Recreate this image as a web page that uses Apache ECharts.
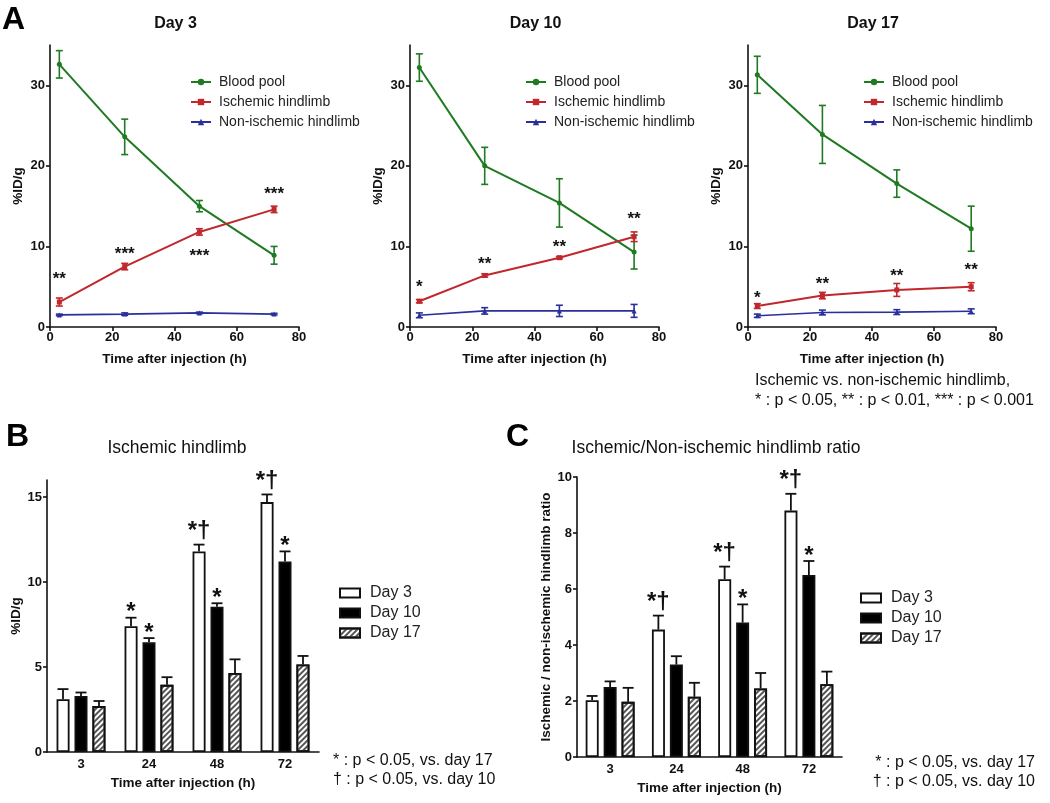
<!DOCTYPE html>
<html>
<head>
<meta charset="utf-8">
<script src="https://cdn.jsdelivr.net/npm/echarts@6/dist/echarts.min.js"></script>
<style>
  html, body { margin: 0; padding: 0; background: #fff; }
  #chart { width: 1050px; height: 803px; }
</style>
</head>
<body>
<div id="chart"></div>
<script>
// ---- panel A : %ID/g vs time, one plot per day ----
const hours = [3, 24, 48, 72]
const namesA = ['Blood pool', 'Ischemic hindlimb', 'Non-ischemic hindlimb']
const daysA = ['Day 3', 'Day 10', 'Day 17']

const bloodD3 = [32.6, 23.6, 15.0, 8.9]
const bloodD3Err = [1.7, 2.2, 0.7, 1.1]
const ischD3 = [3.1, 7.5, 11.8, 14.6]
const ischD3Err = [0.5, 0.4, 0.4, 0.4]
const nonD3 = [1.5, 1.6, 1.75, 1.6]
const nonD3Err = [0.1, 0.15, 0.1, 0.1]
const starsD3 = ['**', '***', '***', '***']
const starsD3Y = [6.4, 9.5, 9.3, 17.0]

const bloodD10 = [32.2, 20.0, 15.4, 9.3]
const bloodD10Err = [1.7, 2.3, 3.0, 2.1]
const ischD10 = [3.2, 6.4, 8.6, 11.2]
const ischD10Err = [0.2, 0.2, 0.15, 0.6]
const nonD10 = [1.45, 2.0, 2.0, 2.0]
const nonD10Err = [0.3, 0.4, 0.7, 0.8]
const starsD10 = ['*', '**', '**', '**']
const starsD10Y = [5.4, 8.3, 10.4, 13.9]

const bloodD17 = [31.3, 23.9, 17.8, 12.2]
const bloodD17Err = [2.3, 3.6, 1.7, 2.8]
const ischD17 = [2.6, 3.9, 4.6, 5.0]
const ischD17Err = [0.3, 0.4, 0.8, 0.5]
const nonD17 = [1.4, 1.8, 1.85, 1.95]
const nonD17Err = [0.2, 0.3, 0.3, 0.3]
const starsD17 = ['*', '**', '**', '**']
const starsD17Y = [4.1, 5.8, 6.8, 7.5]

const ticksA = [0, 10, 20, 30]

// ---- panels B and C : bars by time point ----
const timeCats = ['3', '24', '48', '72']
const dayNames = ['Day 3', 'Day 10', 'Day 17']

const ischB3 = [3.1, 7.4, 11.8, 14.7]
const ischB3Err = [0.6, 0.5, 0.4, 0.45]
const ischB10 = [3.3, 6.45, 8.55, 11.2]
const ischB10Err = [0.2, 0.25, 0.2, 0.6]
const ischB17 = [2.7, 3.95, 4.65, 5.15]
const ischB17Err = [0.3, 0.45, 0.8, 0.5]
const sigB3 = ['', '*', '*\u2020', '*\u2020']
const sigB10 = ['', '*', '*', '*']
const ticksB = [0, 5, 10, 15]

const ratioC3 = [2.03, 4.55, 6.35, 8.8]
const ratioC3Err = [0.15, 0.5, 0.45, 0.6]
const ratioC10 = [2.5, 3.3, 4.8, 6.5]
const ratioC10Err = [0.2, 0.3, 0.65, 0.5]
const ratioC17 = [1.97, 2.15, 2.45, 2.6]
const ratioC17Err = [0.5, 0.5, 0.55, 0.45]
const sigC3 = ['', '*\u2020', '*\u2020', '*\u2020']
const sigC10 = ['', '', '*', '*']
const ticksC = [0, 2, 4, 6, 8, 10]

const FONT = 'Liberation Sans, Arial, sans-serif'
const INK = '#111'
const GREEN = '#1f7a22'
const RED = '#c1272d'
const BLUE = '#2a2f9c'

const gridsA = [
  { left: 50, top: 45, width: 249, height: 282 },
  { left: 410, top: 45, width: 249, height: 282 },
  { left: 748, top: 45, width: 248, height: 282 }
]
const legendLeftA = [185, 520, 858]

const myChart = echarts.init(document.getElementById('chart'))

const axisLine = { lineStyle: { color: INK, width: 1.6 } }
const axisTick = { length: 4, lineStyle: { color: INK, width: 1.6 } }
const tickLabel = { color: INK, fontWeight: 'bold', fontSize: 13, fontFamily: FONT }
const axisName = { color: INK, fontWeight: 'bold', fontSize: 13.5, fontFamily: FONT }

function errLines(idx, xs, ys, errs, color) {
  return {
    type: 'custom', xAxisIndex: idx, yAxisIndex: idx, silent: true, z: 3,
    data: xs.map((x, i) => [x, ys[i], errs[i]]),
    renderItem: function (params, api) {
      const x = api.value(0), y = api.value(1), e = api.value(2)
      const hi = api.coord([x, y + e]), lo = api.coord([x, y - e])
      const s = { stroke: color, lineWidth: 1.6 }
      return { type: 'group', children: [
        { type: 'line', shape: { x1: hi[0], y1: hi[1], x2: lo[0], y2: lo[1] }, style: s },
        { type: 'line', shape: { x1: hi[0] - 3.5, y1: hi[1], x2: hi[0] + 3.5, y2: hi[1] }, style: s },
        { type: 'line', shape: { x1: lo[0] - 3.5, y1: lo[1], x2: lo[0] + 3.5, y2: lo[1] }, style: s }
      ] }
    }
  }
}

function starText(idx, xs, ys, texts) {
  return {
    type: 'custom', xAxisIndex: idx, yAxisIndex: idx, silent: true, z: 5,
    data: xs.map((x, i) => [x, ys[i], i]),
    renderItem: function (params, api) {
      const p = api.coord([api.value(0), api.value(1)])
      return { type: 'text', x: p[0], y: p[1] + 4, style: {
        text: texts[api.value(2)], fill: INK, font: 'bold 17px ' + FONT, align: 'center', verticalAlign: 'middle'
      } }
    }
  }
}

// one-sided error bars + significance marks on grouped bars
const BAR_W = 13
const BAR_STEP = 18
function barErr(idx, slot, vals, errs, sig) {
  return {
    type: 'custom', xAxisIndex: idx, yAxisIndex: idx, silent: true, z: 1,
    data: vals.map((v, i) => [i, v, errs[i], i]),
    renderItem: function (params, api) {
      const c = api.value(0), v = api.value(1), e = api.value(2)
      const base = api.coord([c, v]), top = api.coord([c, v + e])
      const x = base[0] + (slot - 1) * BAR_STEP
      const s = { stroke: INK, lineWidth: 1.8 }
      const kids = [
        { type: 'line', shape: { x1: x, y1: base[1], x2: x, y2: top[1] }, style: s },
        { type: 'line', shape: { x1: x - 5.5, y1: top[1], x2: x + 5.5, y2: top[1] }, style: s }
      ]
      const t = sig ? sig[api.value(3)] : ''
      if (t) {
        // a lone star sits high in its line box, so drop it down to the cap
        const drop = t === '*' ? 8 : 0
        kids.push({ type: 'text', x: x, y: top[1] - 1 + drop, style: {
          text: t, fill: INK, font: 'bold 24px ' + FONT, align: 'center', verticalAlign: 'bottom'
        } })
      }
      return { type: 'group', children: kids }
    }
  }
}

const xAxes = []
const yAxes = []
const series = []
const legends = []
const titles = []

const panelA = [
  [bloodD3, bloodD3Err, ischD3, ischD3Err, nonD3, nonD3Err, starsD3, starsD3Y],
  [bloodD10, bloodD10Err, ischD10, ischD10Err, nonD10, nonD10Err, starsD10, starsD10Y],
  [bloodD17, bloodD17Err, ischD17, ischD17Err, nonD17, nonD17Err, starsD17, starsD17Y]
]

panelA.forEach((d, i) => {
  xAxes.push({
    gridIndex: i, type: 'value', min: 0, max: 80, interval: 20,
    name: 'Time after injection (h)', nameLocation: 'middle', nameGap: 25, nameTextStyle: axisName,
    axisLine: axisLine, axisTick: axisTick, axisLabel: Object.assign({ margin: 4 }, tickLabel),
    splitLine: { show: false }
  })
  yAxes.push({
    gridIndex: i, type: 'value', min: 0, max: 35,
    name: '%ID/g', nameLocation: 'middle', nameGap: 25, nameTextStyle: axisName,
    axisLine: Object.assign({ show: true }, axisLine),
    axisTick: Object.assign({ show: true, customValues: ticksA }, axisTick),
    axisLabel: Object.assign({ margin: 5, customValues: ticksA }, tickLabel),
    splitLine: { show: false }
  })
  const cols = [GREEN, RED, BLUE]
  const syms = ['circle', 'rect', 'triangle']
  const vals = [d[0], d[2], d[4]]
  const errs = [d[1], d[3], d[5]]
  for (let k = 0; k < 3; k++) {
    series.push(errLines(i, hours, vals[k], errs[k], cols[k]))
    series.push({
      name: namesA[k], type: 'line', xAxisIndex: i, yAxisIndex: i, z: 4,
      data: hours.map((h, j) => [h, vals[k][j]]),
      symbol: syms[k], symbolSize: 5, showSymbol: true,
      lineStyle: { color: cols[k], width: k === 2 ? 1.6 : 2 },
      itemStyle: { color: cols[k] }
    })
  }
  series.push(starText(i, hours, d[7], d[6]))
  legends.push({
    data: namesA, orient: 'vertical', left: legendLeftA[i], top: 70, selectedMode: false,
    itemWidth: 20, itemHeight: 8, itemGap: 6,
    textStyle: { fontSize: 14, color: '#222', fontFamily: FONT, lineHeight: 14, padding: [0, 0, 0, 3] }
  })
  titles.push({
    text: daysA[i], left: gridsA[i].left + gridsA[i].width / 2 - 4, top: 11, textAlign: 'center',
    textStyle: { fontSize: 16, fontWeight: 'bold', color: INK, fontFamily: FONT }
  })
})

const barStyles = [
  { color: '#fff', borderColor: INK, borderWidth: 1.8 },
  { color: '#000', borderColor: INK, borderWidth: 1.8 },
  { color: '#fff', borderColor: INK, borderWidth: 1.8,
    decal: { symbol: 'rect', dashArrayX: [1, 0], dashArrayY: [1.2, 1.8], rotation: -Math.PI / 4, color: '#555' } }
]

function barPanel(idx, sets, errsets, sigs, ticks, maxV, yName) {
  xAxes.push({
    gridIndex: idx, type: 'category', data: timeCats,
    name: 'Time after injection (h)', nameLocation: 'middle', nameGap: 24, nameTextStyle: axisName,
    axisLine: axisLine, axisTick: Object.assign({ alignWithLabel: true }, axisTick),
    axisLabel: Object.assign({ margin: 6 }, tickLabel)
  })
  yAxes.push({
    gridIndex: idx, type: 'value', min: 0, max: maxV,
    name: yName, nameLocation: 'middle', nameGap: yName.length > 10 ? 18 : 24, nameTextStyle: axisName,
    axisLine: Object.assign({ show: true }, axisLine),
    axisTick: Object.assign({ show: true, customValues: ticks }, axisTick),
    axisLabel: Object.assign({ margin: 5, customValues: ticks }, tickLabel),
    splitLine: { show: false }
  })
  for (let k = 0; k < 3; k++) {
    series.push({
      name: dayNames[k], type: 'bar', xAxisIndex: idx, yAxisIndex: idx, z: 2,
      data: sets[k], barWidth: BAR_W, barGap: '38%', itemStyle: barStyles[k]
    })
    series.push(barErr(idx, k, sets[k], errsets[k], sigs[k]))
  }
}

barPanel(3, [ischB3, ischB10, ischB17], [ischB3Err, ischB10Err, ischB17Err], [sigB3, sigB10, null], ticksB, 16, '%ID/g')
barPanel(4, [ratioC3, ratioC10, ratioC17], [ratioC3Err, ratioC10Err, ratioC17Err], [sigC3, sigC10, null], ticksC, 10, 'Ischemic / non-ischemic hindlimb ratio')

const barLegend = {
  orient: 'vertical', top: 580, data: dayNames, selectedMode: false, icon: 'rect',
  itemWidth: 20, itemHeight: 9, itemGap: 4,
  textStyle: { fontSize: 16, color: '#222', fontFamily: FONT, lineHeight: 15.5, padding: [0, 0, 0, 5] }
}
legends.push(Object.assign({ left: 334 }, barLegend))
legends.push(Object.assign({}, barLegend, { left: 855, top: 585 }))

titles.push({ text: 'Ischemic hindlimb', left: 172, top: 434, textAlign: 'center',
  textStyle: { fontSize: 17.5, fontWeight: 'normal', color: INK, fontFamily: FONT } })
titles.push({ text: 'Ischemic/Non-ischemic hindlimb ratio', left: 711, top: 434, textAlign: 'center',
  textStyle: { fontSize: 17.5, fontWeight: 'normal', color: INK, fontFamily: FONT } })

const letter = { fill: '#000', font: 'bold 32px ' + FONT }
const note = { fill: INK, font: '16px ' + FONT }

const option = {
  backgroundColor: '#fff',
  animation: false,
  title: titles,
  legend: legends,
  grid: gridsA.concat([
    { left: 47, top: 480, width: 272, height: 272 },
    { left: 577, top: 477, width: 265, height: 280 }
  ]),
  xAxis: xAxes,
  yAxis: yAxes,
  series: series,
  graphic: [
    { type: 'text', left: 2, top: 4, style: Object.assign({ text: 'A' }, letter) },
    { type: 'text', left: 6, top: 421, style: Object.assign({ text: 'B' }, letter) },
    { type: 'text', left: 506, top: 421, style: Object.assign({ text: 'C' }, letter) },
    { type: 'text', left: 755, top: 373, style: Object.assign({ text: 'Ischemic vs. non-ischemic hindlimb,' }, note) },
    { type: 'text', left: 755, top: 393, style: Object.assign({ text: '* : p < 0.05, ** : p < 0.01, *** : p < 0.001' }, note) },
    { type: 'text', left: 333, top: 753, style: Object.assign({ text: '* : p < 0.05, vs. day 17' }, note) },
    { type: 'text', left: 333, top: 772, style: Object.assign({ text: '\u2020 : p < 0.05, vs. day 10' }, note) },
    { type: 'text', right: 15, top: 755, style: Object.assign({ text: '* : p < 0.05, vs. day 17' }, note) },
    { type: 'text', right: 15, top: 774, style: Object.assign({ text: '\u2020 : p < 0.05, vs. day 10' }, note) }
  ]
}

myChart.setOption(option)
window.addEventListener('resize', () => myChart.resize())
</script>
</body>
</html>
